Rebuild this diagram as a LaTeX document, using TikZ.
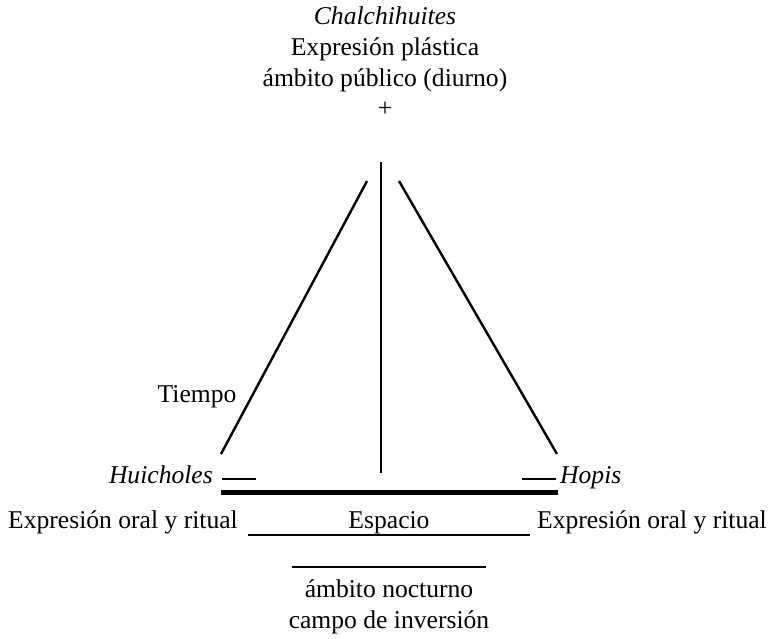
\documentclass[tikz,border=0pt]{standalone}
\usepackage{fontspec}
\setmainfont{Liberation Serif}
\usetikzlibrary{positioning}

\begin{document}
\begin{tikzpicture}[x=1pt, y=-1pt,
    txt/.style={inner sep=0pt, anchor=base, font=\fontsize{25.6}{30}\selectfont},
    thinline/.style={draw=black, line width=2.4pt},
    heavyline/.style={draw=black, line width=5pt}
    ]
        \useasboundingbox (0,0) rectangle (769,638);

        %Nodes
        \node[txt] (chal)  at (385,24)  {\itshape Chalchihuites};
        \node[txt] (plas)  at (385,55)  {Expresión plástica};
        \node[txt] (pub)   at (385,86)  {ámbito público (diurno)};
        \node[txt] (plus)  at (385,116) {+};
        \node[txt] (tiem)  at (197,402) {Tiempo};
        \node[txt, anchor=base east] (huic) at (213,483) {\itshape Huicholes};
        \node[txt, anchor=base west] (hopi) at (560,483) {\itshape Hopis};
        \node[txt, anchor=base west] (oralL) at (8,528)  {Expresión oral y ritual};
        \node[txt, anchor=base east] (oralR) at (767,528) {Expresión oral y ritual};
        \node[txt] (espa)  at (389,528) {Espacio};
        \node[txt] (noct)  at (389,597) {ámbito nocturno};
        \node[txt] (inve)  at (389,628) {campo de inversión};

        %Points
        \coordinate (top)  at (381,162);
        \coordinate (foot) at (381,473);
        \coordinate (lt)   at (367,181);
        \coordinate (lb)   at (221,454);
        \coordinate (rt)   at (399,181);
        \coordinate (rb)   at (557,454);
        \coordinate (sl1)  at (222,479);
        \coordinate (sl2)  at (256,479);
        \coordinate (sr1)  at (522,479);
        \coordinate (sr2)  at (556,479);
        \coordinate (b1)   at (221,492);
        \coordinate (b2)   at (558,492);
        \coordinate (e1)   at (248,535);
        \coordinate (e2)   at (530,535);
        \coordinate (n1)   at (292,567);
        \coordinate (n2)   at (486,567);

        %Lines
        \draw[thinline] (top) -- (foot);
        \draw[thinline] (lt) -- (lb);
        \draw[thinline] (rt) -- (rb);
        \draw[thinline] (sl1) -- (sl2);
        \draw[thinline] (sr1) -- (sr2);
        \draw[heavyline] (b1) -- (b2);
        \draw[thinline] (e1) -- (e2);
        \draw[thinline, line width=2.8pt] (n1) -- (n2);
\end{tikzpicture}
\end{document}
